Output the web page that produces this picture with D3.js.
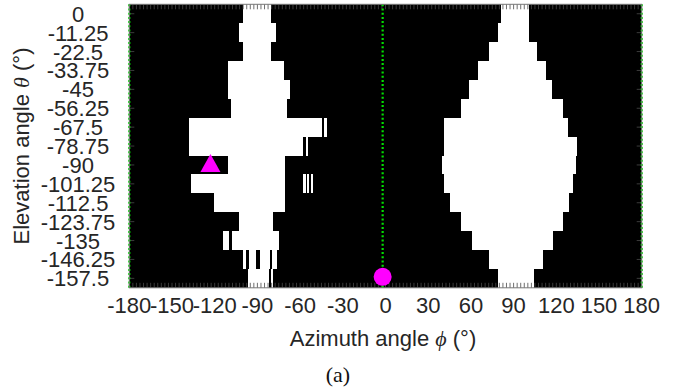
<!DOCTYPE html>
<html>
<head>
<meta charset="utf-8">
<script src="https://cdn.jsdelivr.net/npm/d3@7"></script>
<style>
  html, body { margin: 0; padding: 0; background: #fff; }
  svg { display: block; }
</style>
</head>
<body>
<svg id="chart" width="684" height="387"></svg>
<script>
// Elevation rows of the coverage map (degrees)
const elevations = [0, -11.25, -22.5, -33.75, -45, -56.25, -67.5, -78.75, -90,
                    -101.25, -112.5, -123.75, -135, -146.25, -157.5];
const elevationLabels = ["0", "-11.25", "-22.5", "-33.75", "-45", "-56.25", "-67.5",
                         "-78.75", "-90", "-101.25", "-112.5", "-123.75", "-135", "-146.25", "-157.5"];

// Feasible azimuth intervals [from, to] (degrees) for each elevation row, left lobe
const leftLobe = [
  [[-100.3, -80.7]],
  [[-102.7, -76.9]],
  [[-100.3, -80.7]],
  [[-110.7, -71.3]],
  [[-110.7, -67.1]],
  [[-108.3, -69.0]],
  [[-138.4, -44.8], [-43.2, -40.9]],
  [[-138.4, -57.7], [-56.2, -54.1]],
  [[-110.7, -70.6]],
  [[-136.3, -70.6], [-58.0, -56.2], [-55.1, -53.4], [-52.3, -50.6]],
  [[-120.3, -70.6]],
  [[-102.8, -78.8]],
  [[-114.4, -110.3], [-108.1, -74.6]],
  [[-100.3, -98.0], [-95.6, -91.0], [-88.5, -81.0], [-79.6, -76.0]],
  [[-96.4, -81.6], [-80.2, -79.0]]
];

// Feasible azimuth intervals for each elevation row, right lobe
const rightLobe = [
  [[80.9, 101.0]],
  [[78.8, 101.0]],
  [[72.9, 106.6]],
  [[65.2, 112.7]],
  [[58.9, 116.8]],
  [[52.8, 124.9]],
  [[41.3, 128.4]],
  [[41.3, 134.8]],
  [[39.5, 133.8]],
  [[41.3, 131.5]],
  [[45.3, 128.9]],
  [[53.0, 124.9]],
  [[61.0, 117.5]],
  [[72.7, 110.9]],
  [[79.3, 104.5]]
];

const xTickValues = [-180, -150, -120, -90, -60, -30, 0, 30, 60, 90, 120, 150, 180];
const guideAzimuths = [-180, -2, 180];          // green dotted guides
const startPoint = { phi: -2, theta: -157.5 };   // magenta circle
const goalPoint = { phi: -123, theta: -90 };     // magenta triangle

const svg = d3.select("#chart");
const plot = { left: 129.3, right: 641.7, top: 4.3, bottom: 287.8 };
const half = 11.25 / 2;

const x = d3.scaleLinear().domain([-180, 180]).range([plot.left, plot.right]);
const y = d3.scaleLinear().domain([elevations[0] + half, elevations[elevations.length - 1] - half])
  .range([plot.top, plot.bottom]);

const textColor = "#262626";
const font = "'Liberation Sans', Arial, sans-serif";

// background
svg.append("rect")
  .attr("x", plot.left).attr("y", plot.top)
  .attr("width", plot.right - plot.left).attr("height", plot.bottom - plot.top)
  .attr("fill", "#000");

// white cells
const cells = [];
elevations.forEach((th, i) => {
  leftLobe[i].concat(rightLobe[i]).forEach(([a, b]) => cells.push({ th, a, b }));
});
svg.append("g").selectAll("rect").data(cells).join("rect")
  .attr("x", d => x(d.a))
  .attr("width", d => x(d.b) - x(d.a))
  .attr("y", d => y(d.th + half))
  .attr("height", d => y(d.th - half) - y(d.th + half))
  .attr("fill", "#fff")
  .attr("shape-rendering", "crispEdges");

// minor ticks along top and bottom edges
const minorTicks = d3.range(-180, 180.01, 2.5);
const tickG = svg.append("g").attr("stroke", "#4a4a4a").attr("stroke-width", 0.8);
tickG.selectAll("line.b").data(minorTicks).join("line")
  .attr("x1", d => x(d)).attr("x2", d => x(d))
  .attr("y1", plot.bottom).attr("y2", plot.bottom - 5);
tickG.selectAll("line.t").data(minorTicks).join("line")
  .attr("x1", d => x(d)).attr("x2", d => x(d))
  .attr("y1", plot.top).attr("y2", plot.top + 5);
tickG.selectAll("line.l").data(elevations).join("line")
  .attr("x1", plot.left).attr("x2", plot.left + 5)
  .attr("y1", d => y(d)).attr("y2", d => y(d));
tickG.selectAll("line.r").data(elevations).join("line")
  .attr("x1", plot.right).attr("x2", plot.right - 5)
  .attr("y1", d => y(d)).attr("y2", d => y(d));

// green dotted guides
svg.append("g").selectAll("line").data(guideAzimuths).join("line")
  .attr("x1", d => x(d)).attr("x2", d => x(d))
  .attr("y1", plot.top).attr("y2", plot.bottom)
  .attr("stroke", "#00e000").attr("stroke-width", 2.2)
  .attr("stroke-dasharray", "2,2.2");

// frame
svg.append("rect")
  .attr("x", plot.left).attr("y", plot.top)
  .attr("width", plot.right - plot.left).attr("height", plot.bottom - plot.top)
  .attr("fill", "none").attr("stroke", "#777").attr("stroke-width", 1);

// markers
const gx = x(goalPoint.phi), gy = y(goalPoint.theta);
svg.append("path")
  .attr("d", `M${gx},${gy - 11}L${gx + 10},${gy + 7}L${gx - 10},${gy + 7}Z`)
  .attr("fill", "#ff00ff");
svg.append("circle")
  .attr("cx", x(startPoint.phi)).attr("cy", y(startPoint.theta) - 1.5)
  .attr("r", 9).attr("fill", "#ff00ff");

// y tick labels
svg.append("g").selectAll("text").data(elevations).join("text")
  .attr("x", 78).attr("y", d => y(d) + 8)
  .attr("text-anchor", "middle")
  .attr("font-family", font).attr("font-size", 22).attr("fill", textColor)
  .text((d, i) => elevationLabels[i]);

// x tick labels
svg.append("g").selectAll("text").data(xTickValues).join("text")
  .attr("x", d => x(d)).attr("y", 313)
  .attr("text-anchor", "middle")
  .attr("font-family", font).attr("font-size", 22).attr("fill", textColor)
  .text(d => d);

// axis titles
const xt = svg.append("text")
  .attr("x", 383).attr("y", 346)
  .attr("text-anchor", "middle")
  .attr("font-family", font).attr("font-size", 22).attr("fill", textColor);
xt.append("tspan").text("Azimuth angle ");
xt.append("tspan").attr("font-family", "'Liberation Serif', 'Times New Roman', serif").attr("font-style", "italic").text("ϕ");
xt.append("tspan").text(" (°)");

const yt = svg.append("text")
  .attr("transform", "translate(29,146) rotate(-90)")
  .attr("text-anchor", "middle")
  .attr("font-family", font).attr("font-size", 22).attr("fill", textColor);
yt.append("tspan").text("Elevation angle ");
yt.append("tspan").attr("font-family", "'Liberation Serif', 'Times New Roman', serif").attr("font-style", "italic").text("θ");
yt.append("tspan").text(" (°)");

svg.append("text")
  .attr("x", 338).attr("y", 382)
  .attr("text-anchor", "middle")
  .attr("font-family", "'Liberation Serif', 'Times New Roman', serif")
  .attr("font-size", 22).attr("fill", "#111")
  .text("(a)");
</script>
</body>
</html>
